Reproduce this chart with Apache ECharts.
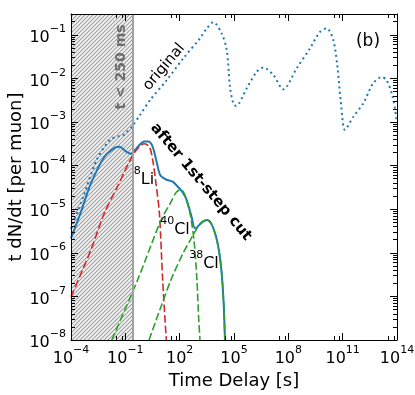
<!DOCTYPE html>
<html>
<head>
<meta charset="utf-8">
<script src="https://cdn.jsdelivr.net/npm/echarts@6/dist/echarts.min.js"></script>
<style>
html, body { margin: 0; padding: 0; background: #fff; }
#chart { width: 415px; height: 395px; }
</style>
</head>
<body>
<div id="chart"></div>
<script>
// values (time in s, rate per muon)
var originalT = [1e-4, 4.79e-4, 2.63e-3, 0.0141, 0.0398, 0.0776, 0.224, 0.646, 2.29, 19.1, 158, 1320, 3160, 7240,
  20900, 39800, 60300, 91200, 1.29e5, 5.01e5, 1.78e6, 4.17e6, 1.48e7, 5.25e7, 2.88e8, 1.58e9, 5.62e9, 1.32e10,
  3.02e10, 5.13e10, 7.76e10, 1.35e11, 3.89e11, 1.38e12, 4.9e12, 1.45e13, 2.69e13, 5.75e13, 9.55e13];
var originalV = [3.55e-6, 1.95e-5, 1.35e-4, 3.89e-4, 4.68e-4, 5.01e-4, 7.76e-4, 1.45e-3, 3.16e-3, 9.1e-3, 0.0288, 0.0832, 0.141, 0.195,
  0.107, 0.0447, 6.3e-3, 2.69e-3, 2.34e-3, 5.89e-3, 0.0141, 0.0178, 0.012, 5.62e-3, 0.017, 0.049, 0.117, 0.141,
  0.0759, 0.0186, 3.16e-3, 6.6e-4, 1.32e-3, 2.69e-3, 7.76e-3, 0.0107, 9.1e-3, 3.8e-3, 1.12e-3];

var totalT = [1e-4, 3.55e-4, 1.26e-3, 6.9e-3, 0.0245, 0.0468, 0.110, 0.204, 0.479, 1.12, 1.86, 3.24, 5.62, 8.51,
  17.8, 40.7, 77.6, 117, 224, 427, 708, 977, 1860, 3240, 5370, 10200, 15500, 20900, 26900, 31600];
var totalV = [2.14e-6, 8.7e-6, 3.9e-5, 1.58e-4, 2.51e-4, 2.69e-4, 2.09e-4, 1.86e-4, 2.69e-4, 3.55e-4, 3.55e-4, 2.69e-4, 1.12e-4, 6.0e-5,
  4.8e-5, 4.27e-5, 3.31e-5, 2.75e-5, 1.78e-5, 7.4e-6, 3.63e-6, 3.98e-6, 5.13e-6, 5.62e-6, 4.79e-6, 2.34e-6, 9.8e-7, 3.39e-7, 6.9e-8, 1e-8];

var li8T = [1e-4, 1.26e-3, 6.9e-3, 0.038, 0.257, 0.589, 1.12, 2.14, 3.24, 4.9, 7.59, 11.5, 17.8, 18.6];
var li8V = [9.8e-8, 1.17e-6, 8.1e-6, 3.39e-5, 1.74e-4, 2.69e-4, 3.16e-4, 2.69e-4, 1.35e-4, 3.9e-5, 8.1e-6, 2.4e-7, 1.2e-8, 1e-8];

var cl40T = [0.0178, 0.479, 9.33, 31.6, 63.1, 100, 158, 251, 398, 631, 891, 1120, 1320];
var cl40V = [1e-8, 2.4e-7, 5.62e-6, 1.41e-5, 2.4e-5, 2.75e-5, 2.51e-5, 1.51e-5, 7.08e-6, 1.78e-6, 2.51e-7, 3.16e-8, 1e-8];

var cl38T = [2.04, 10, 33.1, 158, 398, 794, 1580, 3240, 5370, 10200, 15500, 20900, 26900, 31600];
var cl38V = [1e-8, 6.3e-8, 2.4e-7, 1e-6, 2e-6, 3.31e-6, 5.01e-6, 5.62e-6, 4.79e-6, 2.34e-6, 9.8e-7, 3.39e-7, 6.9e-8, 1e-8];

var cutTime = 0.25;
var xTickExp = [-4, -1, 2, 5, 8, 11, 14];
var yTickExp = [-8, -7, -6, -5, -4, -3, -2, -1];
var minorMult = [2, 3, 4, 5, 6, 7, 8, 9];

var X_MIN = 1e-4, X_MAX = 1e14, Y_MIN = 1e-8, Y_MAX = 0.3;
var FONT = 'DejaVu Sans';

function pairs(t, v) {
  return t.map(function (x, i) { return [x, v[i]]; });
}

// minor y ticks at 2..9 x 10^n
var yMinor = [];
yTickExp.forEach(function (e) {
  minorMult.forEach(function (m) {
    var v = m * Math.pow(10, e);
    if (v < Y_MAX) yMinor.push(v);
  });
});

function powLabel(list) {
  return function (val) {
    var e = Math.round(Math.log10(val));
    if (Math.abs(Math.log10(val) - e) > 1e-6 || list.indexOf(e) < 0) return '';
    return '{b|10}{s|' + (e < 0 ? '\u2212' + (-e) : e) + '}';
  };
}
var labelRich = {
  b: { fontSize: 16, fontFamily: FONT, color: '#000', lineHeight: 22, verticalAlign: 'bottom' },
  s: { fontSize: 11, fontFamily: FONT, color: '#000', lineHeight: 10, verticalAlign: 'top' }
};

// hatch pattern for the t < 250 ms region
var hatch = document.createElement('canvas');
hatch.width = 4; hatch.height = 4;
var hc = hatch.getContext('2d');
hc.fillStyle = '#f4f4f4';
hc.fillRect(0, 0, 4, 4);
hc.strokeStyle = '#a0a0a0';
hc.lineWidth = 1.1;
hc.beginPath();
hc.moveTo(-1, 5); hc.lineTo(5, -1);
hc.moveTo(-1, 1); hc.lineTo(1, -1);
hc.moveTo(3, 5); hc.lineTo(5, 3);
hc.stroke();

var tickStyle = { color: '#000', width: 1 };

function xAxisCfg(pos) {
  return {
    type: 'log', logBase: 10, min: X_MIN, max: X_MAX, interval: 3,
    position: pos, z: 10,
    axisLine: { show: true, onZero: false, lineStyle: tickStyle },
    axisTick: { show: true, inside: true, length: 7, lineStyle: tickStyle },
    minorTick: { show: true, splitNumber: 3, length: 4, lineStyle: tickStyle },
    splitLine: { show: false },
    axisLabel: pos === 'bottom'
      ? { show: true, margin: 5, formatter: powLabel(xTickExp), rich: labelRich, showMinLabel: true, showMaxLabel: true }
      : { show: false }
  };
}
function yAxisCfg(pos) {
  return {
    type: 'log', logBase: 10, min: Y_MIN, max: Y_MAX, interval: 1,
    position: pos, z: 10,
    axisLine: { show: true, onZero: false, lineStyle: tickStyle },
    axisTick: { show: true, inside: true, length: 7, lineStyle: tickStyle },
    minorTick: { show: false },
    splitLine: { show: false },
    axisLabel: pos === 'left'
      ? { show: true, margin: 5, formatter: powLabel(yTickExp), rich: labelRich }
      : { show: false }
  };
}
// extra axes carrying only the 2..9 minor ticks
function yMinorCfg(pos) {
  return {
    type: 'log', logBase: 10, min: Y_MIN, max: Y_MAX, interval: 1,
    position: pos, z: 10,
    axisLine: { show: false },
    axisTick: { show: true, inside: true, length: 4, lineStyle: tickStyle, customValues: yMinor },
    minorTick: { show: false },
    splitLine: { show: false },
    axisLabel: { show: false }
  };
}

var xBottom = xAxisCfg('bottom');
xBottom.name = 'Time Delay [s]';
xBottom.nameLocation = 'middle';
xBottom.nameGap = 32;
xBottom.nameMoveOverlap = false;
xBottom.nameTextStyle = { fontSize: 18, fontFamily: FONT, color: '#000' };

var yLeft = yAxisCfg('left');
yLeft.name = 't dN/dt [per muon]';
yLeft.nameLocation = 'middle';
yLeft.nameGap = 46;
yLeft.nameMoveOverlap = false;
yLeft.nameTextStyle = { fontSize: 18, fontFamily: FONT, color: '#000' };

var chart = echarts.init(document.getElementById('chart'), null, { renderer: 'canvas' });

var dashed = [7.5, 3];

var option = {
  animation: false,
  backgroundColor: '#fff',
  grid: { left: 71, right: 18, top: 14, bottom: 55, containLabel: false, outerBoundsMode: 'none' },
  xAxis: [xBottom, xAxisCfg('top')],
  yAxis: [yLeft, yAxisCfg('right'), yMinorCfg('left'), yMinorCfg('right')],
  series: [
    {
      // hatched excluded region and its edge
      type: 'line', data: [], z: 1, silent: true,
      markArea: {
        silent: true,
        itemStyle: { color: { image: hatch, repeat: 'repeat' } },
        data: [[{ xAxis: X_MIN }, { xAxis: cutTime }]]
      },
      markLine: {
        silent: true, symbol: ['none', 'none'], label: { show: false },
        lineStyle: { color: '#a0a0a0', width: 2, type: 'solid' },
        data: [{ xAxis: cutTime }]
      }
    },
    {
      name: 'original', type: 'line', data: pairs(originalT, originalV), z: 3,
      showSymbol: false, smooth: 0.3,
      lineStyle: { color: '#1f77b4', width: 2, type: [2, 3.3] }
    },
    {
      name: 'after cut', type: 'line', data: pairs(totalT, totalV), z: 3,
      showSymbol: false, smooth: 0.3,
      lineStyle: { color: '#1f77b4', width: 2 }
    },
    {
      name: '8Li', type: 'line', data: pairs(li8T, li8V), z: 4,
      showSymbol: false, smooth: 0.3,
      lineStyle: { color: '#d62728', width: 1.6, type: dashed }
    },
    {
      name: '40Cl', type: 'line', data: pairs(cl40T, cl40V), z: 4,
      showSymbol: false, smooth: 0.3,
      lineStyle: { color: '#2ca02c', width: 1.6, type: dashed }
    },
    {
      name: '38Cl', type: 'line', data: pairs(cl38T, cl38V), z: 4,
      showSymbol: false, smooth: 0.3,
      lineStyle: { color: '#2ca02c', width: 1.6, type: dashed }
    }
  ],
  graphic: [
    { type: 'text', x: 368, y: 42, z: 20,
      style: { text: '(b)', font: '17px ' + FONT, fill: '#000', textAlign: 'center', textVerticalAlign: 'middle' } },
    { type: 'text', x: 121.5, y: 67, z: 20, rotation: Math.PI / 2,
      style: { text: 't < 250 ms', font: 'bold 14px ' + FONT, fill: '#6e6e6e', textAlign: 'center', textVerticalAlign: 'middle' } },
    { type: 'text', x: 164, y: 67, z: 20, rotation: 50 * Math.PI / 180,
      style: { text: 'original', font: '15px ' + FONT, fill: '#000', textAlign: 'center', textVerticalAlign: 'middle' } },
    { type: 'text', x: 201, y: 182, z: 20, rotation: -50 * Math.PI / 180,
      style: { text: 'after 1st-step cut', font: 'bold 15px ' + FONT, fill: '#000', textAlign: 'center', textVerticalAlign: 'middle' } },
    { type: 'text', x: 144, y: 177, z: 20,
      style: { text: '{s|8}{m|Li}', textAlign: 'center', textVerticalAlign: 'middle',
        rich: { s: { fontSize: 11, fontFamily: FONT, fill: '#000', lineHeight: 10, verticalAlign: 'top' },
                m: { fontSize: 16, fontFamily: FONT, fill: '#000', lineHeight: 22, verticalAlign: 'bottom' } } } },
    { type: 'text', x: 175, y: 227, z: 20,
      style: { text: '{s|40}{m|Cl}', textAlign: 'center', textVerticalAlign: 'middle',
        rich: { s: { fontSize: 11, fontFamily: FONT, fill: '#000', lineHeight: 10, verticalAlign: 'top' },
                m: { fontSize: 16, fontFamily: FONT, fill: '#000', lineHeight: 22, verticalAlign: 'bottom' } } } },
    { type: 'text', x: 204, y: 261, z: 20,
      style: { text: '{s|38}{m|Cl}', textAlign: 'center', textVerticalAlign: 'middle',
        rich: { s: { fontSize: 11, fontFamily: FONT, fill: '#000', lineHeight: 10, verticalAlign: 'top' },
                m: { fontSize: 16, fontFamily: FONT, fill: '#000', lineHeight: 22, verticalAlign: 'bottom' } } } }
  ]
};

chart.setOption(option);
</script>
</body>
</html>
